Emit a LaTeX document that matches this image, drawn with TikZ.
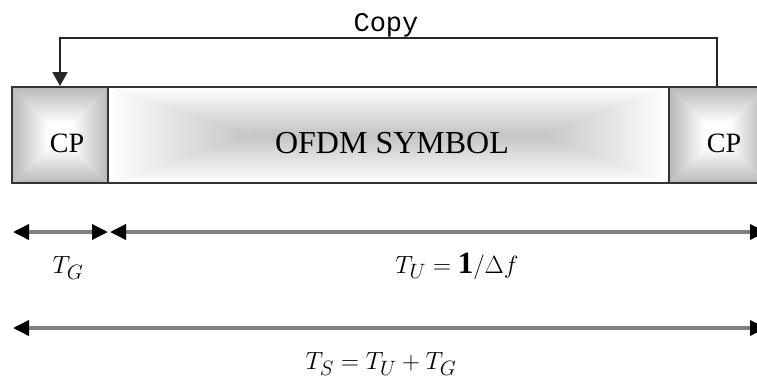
\documentclass[tikz,border=0pt]{standalone}
\usepackage{fontspec}
\setmainfont{Liberation Serif}
\newfontfamily\copyfont{Liberation Mono}
\usetikzlibrary{arrows.meta}
\newcommand\frameshade[8]{%
  % #1,#2 outer top-left ; #3,#4 outer bottom-right ; #5,#6 inner tl ; #7,#8 inner br
  \fill[fill=\frmid] (#1,#2) rectangle (#3,#4);
  \fill[fill=\frin] (#5,#6) rectangle (#7,#8);
  \shade[top color=\frout, bottom color=\frin] (#1,#2) -- (#3,#2) -- (#7,#6) -- (#5,#6) -- cycle;
  \shade[top color=\frin, bottom color=\frout] (#1,#4) -- (#3,#4) -- (#7,#8) -- (#5,#8) -- cycle;
  \shade[left color=\frout, right color=\frin] (#1,#2) -- (#5,#6) -- (#5,#8) -- (#1,#4) -- cycle;
  \shade[left color=\frin, right color=\frout] (#3,#2) -- (#7,#6) -- (#7,#8) -- (#3,#4) -- cycle;
}
\tikzset{
  boxborder/.style={draw=black!80, line width=2pt, inner sep=0pt},
  boxtext/.style={inner sep=0pt, font=\fontsize{28}{32}\selectfont},
  dimline/.style={draw=black!50, line width=3.5pt,
    {Triangle[length=16pt,width=15pt,color=black]}-{Triangle[length=16pt,width=15pt,color=black]}},
  copyline/.style={draw=black!85, line width=1.8pt, -{Triangle[length=14pt,width=15pt]}},
  mathlabel/.style={inner sep=0pt, font=\fontsize{31}{36}\selectfont}
}
\begin{document}
\begin{tikzpicture}[x=1pt,y=-1pt]
\useasboundingbox (0,0) rectangle (757,383);
\begin{scope}
\clip (0,0) rectangle (757,383);
% shadings
\def\frout{black!28}\def\frin{white}\def\frmid{black!14}
\frameshade{12}{87}{108}{183}{48}{123}{72}{147}
\frameshade{669}{87}{765}{183}{705}{123}{729}{147}
\def\frout{white}\def\frin{black!23}\def\frmid{black!10}
\frameshade{108}{87}{669}{183}{250}{135}{540}{135}
% boxes
\node[boxborder, minimum width=96pt, minimum height=96pt] (cpl) at (60,135) {};
\node[boxborder, minimum width=561pt, minimum height=96pt] (sym) at (388.5,135) {};
\node[boxborder, minimum width=96pt, minimum height=96pt] (cpr) at (717,135) {};
\end{scope}
\node[boxtext] (cpltext) at (67,143) {CP};
\node[boxtext, font=\fontsize{32}{36}\selectfont] (symtext) at (392,143.5) {OFDM SYMBOL};
\node[boxtext] (cprtext) at (724,143) {CP};
% copy connector
\draw[copyline] (cpr.north) -- ++(0,-48) -| (cpl.north);
\node[inner sep=0pt, font=\copyfont\fontsize{27}{30}\selectfont] (copy) at (386,25) {Copy};
% dimension arrows
\coordinate (g1) at (13,232);
\coordinate (g2) at (108,232);
\coordinate (u1) at (110,232);
\coordinate (u2) at (766,232);
\coordinate (s1) at (13,328);
\coordinate (s2) at (766,328);
\draw[dimline] (g1) -- (g2);
\draw[dimline] (u1) -- (u2);
\draw[dimline] (s1) -- (s2);
\node[mathlabel] (tg) at (68,268) {$T_G$};
\node[mathlabel] (tu) at (457,266) {$T_U =\mathbf{1}/\Delta f$};
\node[mathlabel] (ts) at (381,364) {$T_S = T_U + T_G$};
\end{tikzpicture}
\end{document}
